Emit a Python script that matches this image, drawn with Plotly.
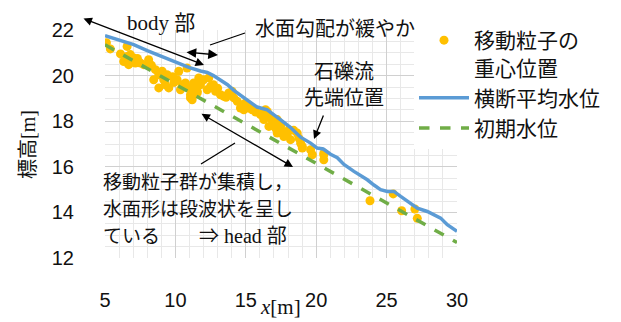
import plotly.graph_objects as go

# ---------------- data ----------------
particle_x = [5.1, 5.38, 6.57, 6.33, 6.57, 6.8, 6.93, 7.04, 6.68, 7.16, 7.52, 7.75, 8.1, 6.45,
              8.58, 8.82, 9.06, 8.46, 9.17, 9.41, 8.82, 9.53, 9.29, 10.24, 10.83, 10.12, 10.48,
              10.36, 10.71, 10.95, 11.07, 11.42, 11.55, 11.3, 11.66, 12.0, 11.78, 11.42, 12.26,
              12.5, 12.85, 13.2, 13.44, 13.79, 14.03, 14.15, 14.39, 14.74, 14.98, 15.21, 14.86,
              15.45, 14.62, 16.16, 16.52, 16.4, 16.76, 16.99, 17.23, 17.47, 11.55, 11.07, 11.19,
              11.3, 12.37, 15.33, 16.04, 16.28, 16.52, 16.64, 17.11, 17.23, 17.59, 17.7, 17.94,
              18.18, 18.06, 18.65, 18.77, 18.89, 19.01, 19.6, 19.72, 20.54, 20.54, 17.47, 19.01,
              20.54, 23.82, 25.47, 26.07, 27.01, 27.18, 7.3, 8.3, 9.8, 12.7, 13.0, 13.6, 15.7,
              16.9, 18.4, 6.1, 9.9]
particle_y = [21.44, 21.17, 21.28, 20.62, 20.84, 20.92, 20.62, 20.77, 20.48, 20.55, 20.55, 20.48,
              20.7, 20.7, 20.26, 20.04, 20.19, 19.82, 19.82, 20.04, 19.46, 19.46, 19.6, 20.19,
              20.33, 19.82, 19.6, 19.38, 19.68, 19.46, 19.16, 19.6, 19.31, 19.68, 19.9, 19.82,
              19.6, 19.46, 19.38, 19.53, 19.31, 19.16, 19.09, 19.24, 19.31, 19.02, 18.87, 18.72,
              18.8, 18.58, 18.5, 18.5, 18.58, 18.36, 18.29, 18.5, 18.14, 17.99, 18.07, 17.85,
              19.24, 19.02, 18.94, 19.16, 19.9, 18.58, 18.29, 18.07, 18.43, 17.77, 17.7, 17.48,
              17.55, 17.33, 17.41, 17.19, 17.63, 17.48, 17.26, 17.04, 16.89, 16.75, 16.53, 16.53,
              16.31, 17.77, 16.82, 16.6, 14.51, 14.81, 14.07, 14.15, 13.74, 20.75, 20.45, 19.95,
              19.6, 19.45, 19.05, 18.4, 18.05, 17.6, 20.95, 19.7]

water_x = [5.0, 6.0, 7.04, 8.0, 8.7, 9.5, 10.36, 11.0, 11.78, 12.26, 12.7, 13.2, 13.7, 14.15,
           14.6, 15.1, 15.8, 16.52, 17.0, 17.5, 18.18, 18.89, 19.6, 20.07, 20.5, 21.02, 21.5,
           21.97, 22.68, 23.2, 23.63, 24.1, 24.57, 25.05, 25.52, 26.0, 26.47, 27.18, 27.89,
           28.4, 28.84, 29.31, 30.0]
water_y = [21.75, 21.55, 21.36, 21.1, 20.92, 20.7, 20.48, 20.35, 20.2, 20.14, 20.0, 19.82, 19.6,
           19.35, 19.15, 18.94, 18.62, 18.5, 18.3, 18.05, 17.72, 17.3, 17.04, 16.82, 16.78,
           16.55, 16.4, 16.1, 15.8, 15.6, 15.43, 15.2, 15.0, 14.92, 14.92, 14.7, 14.48, 14.19,
           14.04, 13.9, 13.75, 13.46, 13.17]

initial_x = [5.0, 30.0]
initial_y = [21.35, 12.68]

names = ["移動粒子の<br>重心位置", "横断平均水位", "初期水位"]
x_ticks = [5, 10, 15, 20, 25, 30]
y_ticks = [12, 14, 16, 18, 20, 22]

# ---------------- layout helpers ----------------
FW, FH = 621, 322
L, R, T, B = 105, 457, 30, 258
W, H = R - L, B - T

def px(xp):
    return (xp - L) / W

def py(yp):
    return 1 - (yp - T) / H

SERIF = "Liberation Serif, Noto Sans CJK JP, serif"
SANS = "Liberation Sans, Arial, sans-serif"

fig = go.Figure()
fig.add_trace(go.Scatter(x=particle_x, y=particle_y, mode="markers", name=names[0],
                         legendgroup="a",
                         marker=dict(color="#FFC000", size=9, line=dict(width=0))))
fig.add_trace(go.Scatter(x=water_x, y=water_y, mode="lines", name=names[1],
                         legendgroup="b",
                         line=dict(color="#5B9BD5", width=3.5)))
fig.add_trace(go.Scatter(x=initial_x, y=initial_y, mode="lines", name=names[2],
                         legendgroup="c",
                         line=dict(color="#70AD47", width=3.5, dash="dash")))

ann = []

def text(xp, yp, s, size=20, xanchor="center", family=SERIF):
    ann.append(dict(xref="paper", yref="paper", x=px(xp), y=py(yp), text=s, showarrow=False,
                    xanchor=xanchor, yanchor="middle", font=dict(family=family, size=size, color="#111")))

def arrow(hx, hy, tx, ty, both=False, size=1.3):
    ann.append(dict(xref="paper", yref="paper", x=px(hx), y=py(hy), ax=tx - hx, ay=ty - hy,
                    axref="pixel", ayref="pixel", text="", showarrow=True,
                    arrowhead=2, startarrowhead=2, arrowsize=size, startarrowsize=size,
                    arrowwidth=1.3, arrowcolor="black",
                    arrowside="end+start" if both else "end", standoff=0, startstandoff=0))

text(161, 23, "body 部", 21)
text(253, 29, "水面勾配が緩やか", 20, "left")
text(344, 72, "石礫流", 20)
text(344, 98, "先端位置", 20)
text(101, 182, "移動粒子群が集積し，", 19, "left")
text(101, 209, "水面形は段波状を呈し", 19, "left")
text(101, 236, "ている", 19, "left")
text(197, 236, "⇒ head 部", 20, "left")

arrow(204, 65, 82, 18, both=True)
arrow(218, 55, 185, 52, both=True, size=1.5)
arrow(293, 167, 200, 113, both=True)
arrow(314, 139, 324, 114)

shapes = [
    dict(type="line", xref="paper", yref="paper", x0=px(210), y0=py(45), x1=px(245), y1=py(33),
         line=dict(color="black", width=1.3)),
    dict(type="line", xref="paper", yref="paper", x0=px(201), y0=py(164), x1=px(235), y1=py(143),
         line=dict(color="black", width=1.3)),
]

# axis titles
ann.append(dict(xref="paper", yref="paper", x=px(280), y=py(307), text="<i>x</i>[m]", showarrow=False,
                xanchor="center", yanchor="middle", font=dict(family=SERIF, size=21, color="#111")))
ann.append(dict(xref="paper", yref="paper", x=px(28), y=py(145), text="標高[m]", showarrow=False,
                textangle=-90, xanchor="center", yanchor="middle",
                font=dict(family=SERIF, size=20, color="#111")))

fig.update_layout(
    width=FW, height=FH,
    margin=dict(l=L, r=FW - R, t=T, b=FH - B, pad=0),
    paper_bgcolor="white", plot_bgcolor="white",
    showlegend=True,
    legend=dict(x=px(414), y=py(20), xanchor="left", yanchor="top", bgcolor="white",
                font=dict(family=SERIF, size=21, color="#111"), valign="top",
                itemwidth=50, tracegroupgap=3, traceorder="normal"),
    annotations=ann, shapes=shapes,
    xaxis=dict(range=[5, 30], tickvals=x_ticks, showgrid=True, gridcolor="#D0D0D0", gridwidth=1,
               minor=dict(dtick=1, showgrid=True, gridcolor="#E8E8E8"),
               zeroline=False, showline=False, ticks="", ticklabelstandoff=28,
               tickfont=dict(family=SANS, size=20, color="#111")),
    yaxis=dict(range=[12, 22], tickvals=y_ticks, showgrid=True, gridcolor="#D0D0D0", gridwidth=1,
               minor=dict(dtick=0.5, showgrid=True, gridcolor="#E8E8E8"),
               zeroline=False, showline=False, ticks="", ticklabelstandoff=30,
               tickfont=dict(family=SANS, size=20, color="#111")),
)

fig.write_html("out.html")
